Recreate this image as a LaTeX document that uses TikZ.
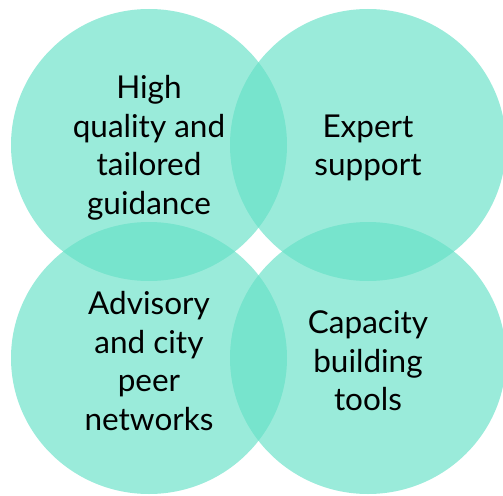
\documentclass[tikz,border=0pt]{standalone}
\usepackage{fontspec}
\setmainfont{Lato}
\usetikzlibrary{positioning}

\definecolor{venn}{RGB}{100,224,198}

\begin{document}
\begin{tikzpicture}[
  x=1pt, y=-1pt,
  circ/.style={fill=venn, fill opacity=0.65, draw=none},
  lbl/.style={align=center, inner sep=0pt, text=black,
              font=\fontsize{31.5}{38.5}\selectfont}
]
\useasboundingbox (0,0) rectangle (503,495);

% Four overlapping circles
\fill[circ] (149,145) ellipse [x radius=138, y radius=136];
\fill[circ] (368,145) ellipse [x radius=138, y radius=136];
\fill[circ] (149,358) ellipse [x radius=138, y radius=136];
\fill[circ] (368,358) ellipse [x radius=138, y radius=136];

% Labels, one per circle
\node[lbl] (guide) at (149,148) {High\\quality and\\tailored\\guidance};
\node[lbl] (expert) at (368,148) {Expert\\support};
\node[lbl] (peer) at (149,361) {Advisory\\and city\\peer\\networks};
\node[lbl] (tools) at (368,361) {Capacity\\building\\tools};

\end{tikzpicture}
\end{document}
